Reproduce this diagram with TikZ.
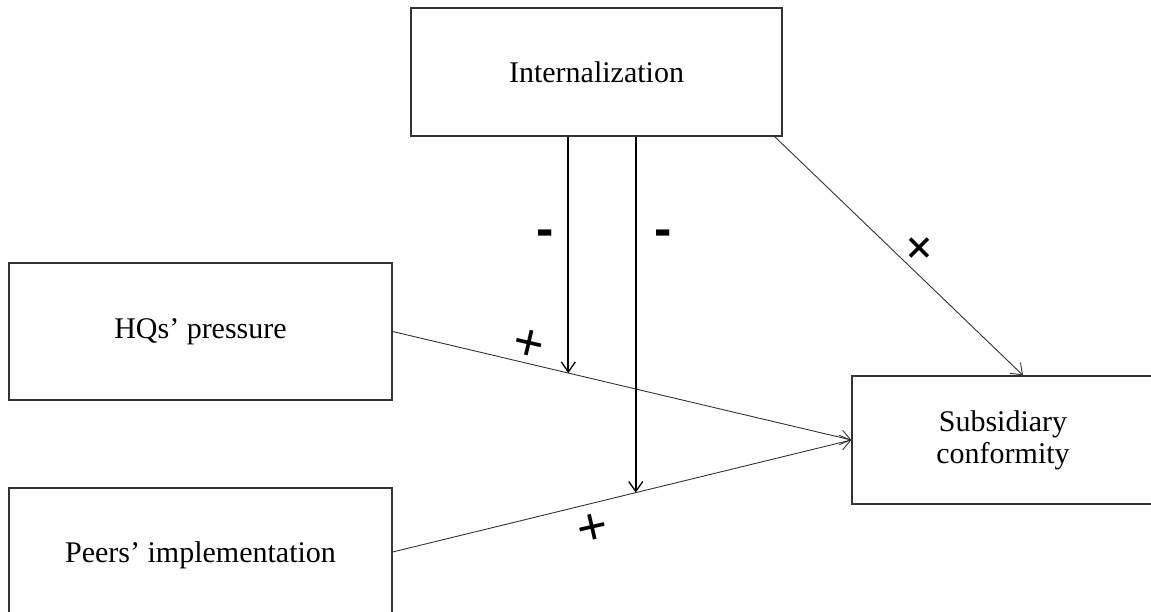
\documentclass[tikz,border=0pt]{standalone}
\usepackage{fontspec}
\setmainfont{Liberation Serif}
\newfontfamily\signfont{Liberation Sans}
\usetikzlibrary{arrows.meta,calc}
\begin{document}
\begin{tikzpicture}[x=1pt,y=-1pt,
  box/.style={draw=black!80,line width=1.3pt,rectangle,inner sep=0pt,align=center,
    font=\fontsize{30}{32}\selectfont},
  link/.style={draw=black!80,line width=0.9pt,-{Straight Barb[length=10pt,width=15pt,line width=0.9pt]}},
  modarrow/.style={draw=black,line width=1.8pt,-{Straight Barb[length=10pt,width=14pt,line width=1.3pt]}},
  plussign/.style={font=\signfont\fontsize{52}{52}\selectfont,inner sep=0pt},
  minussign/.style={font=\signfont\bfseries\fontsize{52}{52}\selectfont,inner sep=0pt}]
\useasboundingbox (0,0) rectangle (1151,612);
\node[box,minimum width=371pt,minimum height=128pt] (int) at (596.5,72) {Internalization};
\node[box,minimum width=383pt,minimum height=137pt] (hq) at (200.5,331.5) {HQs’ pressure};
\node[box,minimum width=383pt,minimum height=134pt] (peer) at (200.5,555) {Peers’ implementation};
\node[box,minimum width=302pt,minimum height=128pt] (sub) at (1003,440) {Subsidiary\\conformity};
\draw[link] (hq.east) -- (sub.west);
\draw[link] (peer.east) ++(0,-3) coordinate (pe) -- (sub.west);
\draw[link] ($(int.south east)+(-9,-1)$) coordinate (ie) -- ($(sub.north)+(20,0)$) coordinate (se);
\coordinate (m1) at ($(hq.east)!0.383!(sub.west)$);
\coordinate (m2) at ($(pe)!0.530!(sub.west)$);
\draw[modarrow] (int.south -| m1) -- (m1);
\draw[modarrow] (int.south -| m2) -- (m2);
\node[minussign] (mi1) at (545,238) {-};
\node[minussign] (mi2) at (663,238) {-};
\node[plussign,rotate=-13] (p1) at (529,345) {+};
\node[plussign,rotate=13] (p2) at (593,529) {+};
\node[plussign,rotate=-45] (p3) at (918,250) {+};
\end{tikzpicture}
\end{document}
